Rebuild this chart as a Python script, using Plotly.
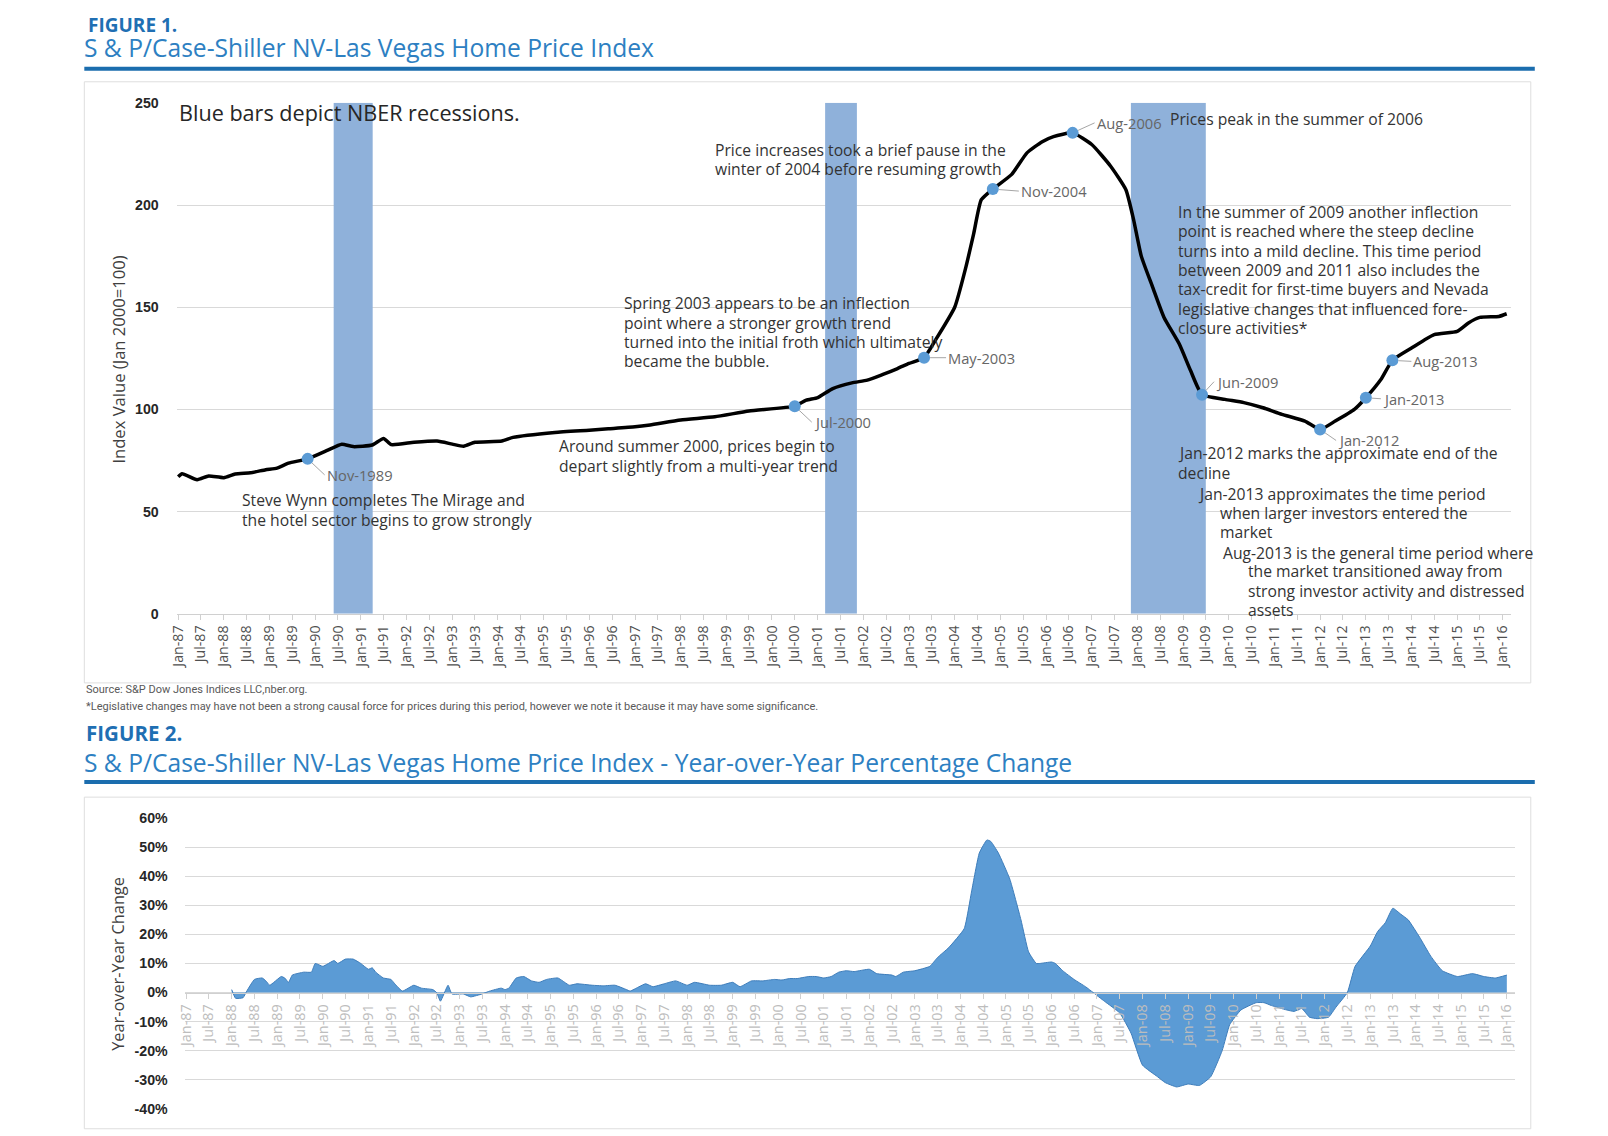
import plotly.graph_objects as go

W, H = 1608, 1136

# ---- data ----
price_dates = ["1987-01", "1987-02", "1987-06", "1987-09", "1988-01", "1988-04", "1988-08",
               "1988-12", "1989-03", "1989-06", "1989-11", "1990-04", "1990-08", "1990-11",
               "1991-04", "1991-07", "1991-09", "1992-03", "1992-09", "1993-01", "1993-04",
               "1993-07", "1994-02", "1994-05", "1995-04", "1996-01", "1996-06", "1997-01",
               "1997-05", "1998-01", "1998-10", "1999-07", "2000-07", "2000-10", "2001-01",
               "2001-05", "2001-10", "2002-02", "2002-06", "2002-10", "2003-01", "2003-05",
               "2003-08", "2004-01", "2004-04", "2004-06", "2004-08", "2004-11", "2005-04",
               "2005-08", "2005-12", "2006-03", "2006-08", "2007-01", "2007-06", "2007-10",
               "2007-12", "2008-02", "2008-05", "2008-08", "2008-12", "2009-03", "2009-06",
               "2009-12", "2010-05", "2010-10", "2011-03", "2011-09", "2012-01", "2012-05",
               "2012-10", "2013-01", "2013-05", "2013-08", "2014-01", "2014-07", "2015-01",
               "2015-04", "2015-07", "2015-12", "2016-02"]
price_index = [67.0, 68.5, 65.6, 67.4, 66.6, 68.4, 69.0,
               70.5, 71.3, 73.7, 75.8, 79.8, 83.0, 81.8,
               82.6, 85.8, 82.8, 83.9, 84.5, 83.0, 82.0,
               83.9, 84.5, 86.3, 88.7, 89.8, 90.5, 91.5,
               92.4, 94.8, 96.4, 99.2, 101.6, 104.5, 105.8,
               110.2, 113.0, 114.3, 117.0, 120.0, 122.5, 125.3,
               134.0, 150.0, 170.0, 186.0, 202.6, 207.8, 215.0,
               225.5, 231.0, 233.5, 235.3, 229.6, 219.0, 207.5,
               193.0, 175.0, 160.0, 145.0, 132.0, 119.0, 107.2,
               104.9, 103.3, 100.8, 97.6, 94.3, 90.2, 94.3,
               100.0, 105.7, 114.6, 124.0, 130.0, 136.6, 138.2,
               142.3, 145.0, 145.5, 146.8]

key_dates = ["1989-11", "2000-07", "2003-05", "2004-11", "2006-08",
             "2009-06", "2012-01", "2013-01", "2013-08"]
key_labels = ["Nov-1989", "Jul-2000", "May-2003", "Nov-2004", "Aug-2006",
              "Jun-2009", "Jan-2012", "Jan-2013", "Aug-2013"]
# label offsets from the marker, pixels
key_dx = [17, 17, 22, 26, 22, 12, 16, 15, 19]
key_dy = [16, 16, 0, 2, -10, -13, 11, 1, 1]

recession_start = ["1990-05-28", "2001-03-01", "2007-11-10"]
recession_end = ["1991-04-05", "2001-11-10", "2009-07-01"]

yoy_dates = ["1988-01", "1988-02", "1988-04", "1988-05", "1988-07", "1988-09", "1988-10",
             "1988-11", "1989-02", "1989-03", "1989-04", "1989-05", "1989-08", "1989-10",
             "1989-11", "1990-01", "1990-04", "1990-05", "1990-07", "1990-09", "1990-11",
             "1991-01", "1991-02", "1991-03", "1991-05", "1991-07", "1991-08", "1991-10",
             "1992-01", "1992-03", "1992-06", "1992-07", "1992-08", "1992-10", "1992-11",
             "1993-02", "1993-04", "1993-07", "1993-09", "1993-12", "1994-01", "1994-02",
             "1994-04", "1994-06", "1994-08", "1994-10", "1994-12", "1995-03", "1995-06",
             "1995-08", "1995-12", "1996-03", "1996-06", "1996-09", "1996-10", "1997-02",
             "1997-04", "1997-07", "1997-10", "1998-01", "1998-03", "1998-07", "1998-10",
             "1999-01", "1999-03", "1999-06", "1999-09", "1999-12", "2000-02", "2000-04",
             "2000-06", "2000-09", "2000-11", "2001-01", "2001-03", "2001-05", "2001-07",
             "2001-09", "2002-01", "2002-03", "2002-07", "2002-08", "2002-10", "2003-01",
             "2003-05", "2003-07", "2003-10", "2004-02", "2004-04", "2004-06", "2004-08",
             "2004-09", "2004-11", "2005-02", "2005-05", "2005-07", "2005-09", "2005-10",
             "2006-01", "2006-02", "2006-04", "2006-07", "2006-10", "2006-12", "2007-03",
             "2007-07", "2007-10", "2008-01", "2008-05", "2008-07", "2008-10", "2009-01",
             "2009-04", "2009-07", "2009-10", "2009-12", "2010-03", "2010-07", "2010-09",
             "2010-11", "2011-03", "2011-05", "2011-07", "2011-09", "2011-11", "2012-02",
             "2012-04", "2012-07", "2012-09", "2013-01", "2013-03", "2013-05", "2013-07",
             "2013-09", "2013-11", "2014-02", "2014-05", "2014-08", "2014-12", "2015-04",
             "2015-07", "2015-10", "2016-01"]
yoy_pct = [1.0, -2.0, -1.8, 0.5, 4.5, 5.0, 4.0,
           2.5, 5.5, 5.0, 3.5, 6.0, 7.0, 7.0,
           10.0, 9.0, 11.0, 10.0, 11.5, 11.5, 10.0,
           8.0, 8.5, 7.0, 5.0, 4.5, 3.0, 0.5,
           2.5, 1.5, 1.0, 0.0, -3.0, 2.5, -0.5,
           -0.5, -1.5, -0.5, 0.5, 1.5, 1.0, 1.5,
           5.0, 5.5, 4.0, 3.5, 4.5, 5.0, 2.5,
           3.0, 2.5, 2.3, 2.5, 1.0, 0.5, 3.0,
           2.0, 3.0, 4.0, 2.5, 3.5, 2.5, 2.5,
           3.5, 2.0, 4.0, 4.0, 4.5, 4.3, 4.8,
           4.8, 5.5, 5.5, 5.0, 5.5, 7.0, 7.5,
           7.2, 8.0, 6.5, 6.0, 5.5, 7.0, 7.5,
           9.0, 12.0, 15.5, 22.0, 35.0, 48.0, 52.5,
           52.0, 48.0, 39.0, 25.0, 14.0, 10.0, 10.0,
           10.5, 10.0, 7.5, 4.5, 2.0, 0.0, -3.0,
           -7.0, -14.0, -25.0, -29.0, -31.0, -32.5, -31.5,
           -32.0, -29.0, -20.0, -11.0, -6.0, -3.5, -3.5,
           -4.5, -6.0, -6.5, -5.5, -8.5, -9.0, -8.5,
           -5.0, 0.0, 9.0, 16.0, 21.0, 24.0, 29.0,
           27.0, 25.0, 19.0, 12.5, 7.5, 5.5, 6.5,
           5.5, 5.0, 6.0]

yoy_ticks = [-40, -30, -20, -10, 0, 10, 20, 30, 40, 50, 60]

BLUE_TXT = "#1F6FB3"
TITLE_BLUE = "#2D80C2"
RULE = "#1B6DAE"
TXT = "#333333"
TXTFONT = "Open Sans"


# layout positions below are in reference-picture pixels; mapped to figure pixels here
def fx(x):
    return 1.0052 * x - 16.7


def fy(y):
    return 1.0162 * y - 16.6


def px(x):
    return fx(x) / W


def py(y):
    return 1 - fy(y) / H


fig = go.Figure()

# figure 1 : index
fig.add_trace(go.Scatter(x=price_dates, y=price_index, mode="lines",
                         line=dict(color="black", width=3.5, shape="spline", smoothing=0.5),
                         hoverinfo="skip", xaxis="x", yaxis="y"))
lookup = dict(zip(price_dates, price_index))
key_vals = [lookup[d] for d in key_dates]
fig.add_trace(go.Scatter(x=key_dates, y=key_vals, mode="markers",
                         marker=dict(color="#5B9BD5", size=12), hoverinfo="skip",
                         xaxis="x", yaxis="y"))

# figure 2 : yoy change
fig.add_trace(go.Scatter(x=yoy_dates, y=yoy_pct, mode="lines", fill="tozeroy",
                         fillcolor="#5B9BD5",
                         line=dict(color="#3E7DBA", width=1, shape="spline", smoothing=0.4),
                         hoverinfo="skip", xaxis="x2", yaxis="y2"))

shapes = []
for s, e in zip(recession_start, recession_end):
    shapes.append(dict(type="rect", xref="x", yref="y", x0=s, x1=e, y0=0, y1=250,
                       fillcolor="#8FB1DA", line=dict(width=0), layer="between"))
# header rules and chart frames
for y in (69, 781):
    shapes.append(dict(type="line", xref="paper", yref="paper", x0=px(84), x1=px(1536),
                       y0=py(y), y1=py(y), line=dict(color=RULE, width=4)))
for y0, y1 in ((82, 682), (796, 1127)):
    shapes.append(dict(type="rect", xref="paper", yref="paper", x0=px(84), x1=px(1532),
                       y0=py(y1), y1=py(y0), line=dict(color="#dedede", width=1)))

ann = []


def note(x, y, text, size=15.7, color=TXT, family=TXTFONT, **kw):
    ann.append(dict(xref="paper", yref="paper", x=px(x), y=py(y), text=text,
                    showarrow=False, xanchor=kw.pop("xanchor", "left"),
                    yanchor=kw.pop("yanchor", "middle"), align="left",
                    font=dict(family=family, size=size, color=color, **kw)))


def block(x, y, lines, step=19.3, **kw):
    for i, line in enumerate(lines):
        note(x, y + i * step, line, **kw)


# the top label sits against the top edge of the figure
ann.append(dict(xref="paper", yref="paper", x=px(86), y=1 - 9.5 / H, text="FIGURE 1.",
                showarrow=False, xanchor="left", yanchor="middle",
                font=dict(family="Open Sans", size=19, color=BLUE_TXT, weight="bold")))
note(82, 47.5, "S & P/Case-Shiller NV-Las Vegas Home Price Index", size=24.6, color=TITLE_BLUE)
note(84, 732, "FIGURE 2.", size=20.5, color=BLUE_TXT, weight="bold")
note(82, 761, "S & P/Case-Shiller NV-Las Vegas Home Price Index - Year-over-Year Percentage Change",
     size=24.6, color=TITLE_BLUE)
note(84, 1130, "FIGURE 3.", size=20.5, color=BLUE_TXT, weight="bold", yanchor="top")

note(84, 689, "Source: S&P Dow Jones Indices LLC,nber.org.", size=11, color="#595959", family="Roboto")
note(84, 706, "*Legislative changes may have not been a strong causal force for prices during this "
     "period, however we note it because it may have some significance.",
     size=11, color="#595959", family="Roboto")

note(118, 359, "Index Value (Jan 2000=100)", size=16.6, color="#404040", family="Open Sans",
     xanchor="center")
ann[-1]["textangle"] = -90
note(118, 962, "Year-over-Year Change", size=16.3, color="#404040", family="Open Sans",
     xanchor="center")
ann[-1]["textangle"] = -90

note(177, 113, "Blue bars depict NBER recessions.", size=21.6, color="#262626")
block(713, 150, ["Price increases took a brief pause in the",
                 "winter of 2004 before resuming growth"])
note(1169, 119, "Prices peak in the summer of 2006")
block(1177, 212, ["In the summer of 2009 another inflection",
                  "point is reached where the steep decline",
                  "turns into a mild decline. This time period",
                  "between 2009 and 2011 also includes the",
                  "tax-credit for first-time buyers and Nevada",
                  "legislative changes that influenced fore-",
                  "closure activities*"])
block(622, 303, ["Spring 2003 appears to be an inflection",
                 "point where a stronger growth trend",
                 "turned into the initial froth which ultimately",
                 "became the bubble."])
block(557, 446, ["Around summer 2000, prices begin to",
                 "depart slightly from a multi-year trend"])
block(240, 499.5, ["Steve Wynn completes The Mirage and",
                   "the hotel sector begins to grow strongly"], step=20)
block(1177, 453, ["Jan-2012 marks the approximate end of the", "decline"])
note(1197, 493, "Jan-2013 approximates the time period")
block(1219, 512, ["when larger investors entered the", "market"])
note(1222, 552, "Aug-2013 is the general time period where")
block(1247, 570.5, ["the market transitioned away from",
                    "strong investor activity and distressed",
                    "assets"])

for d, v, lab, dx, dy in zip(key_dates, key_vals, key_labels, key_dx, key_dy):
    ann.append(dict(xref="x", yref="y", x=d, y=v, text=lab, showarrow=True,
                    ax=dx, ay=dy, xanchor="left", yanchor="middle", arrowhead=0,
                    arrowwidth=1, arrowcolor="#a6a6a6", standoff=6,
                    font=dict(family="Open Sans", size=14.7, color="#666666")))

axis_common = dict(type="date", tickformat="%b-%y", dtick="M6", tick0="1987-01-01",
                   tickangle=-90, showgrid=False, showline=True, linecolor="#d0d0d0",
                   ticks="outside", ticklen=5, tickcolor="#d0d0d0",
                   range=["1986-12-20", "2016-03-05"])

fig.update_layout(
    width=W, height=H, margin=dict(l=0, r=0, t=0, b=0),
    paper_bgcolor="white", plot_bgcolor="white", showlegend=False,
    shapes=shapes, annotations=ann,
    xaxis=dict(axis_common, domain=[px(176.5), px(1512)], anchor="y",
               tickfont=dict(family="Open Sans", size=14.2, color="#505050")),
    yaxis=dict(range=[0, 250], dtick=50, domain=[py(613), py(103)], anchor="x",
               gridcolor="#d9d9d9", zeroline=False, ticklabelstandoff=17,
               tickfont=dict(family="Liberation Sans", size=14.2, color="#262626", weight="bold")),
    xaxis2=dict(axis_common, domain=[px(184.5), px(1516)], anchor="free", position=py(991),
                tickfont=dict(family="Open Sans", size=14.4, color="#bdbdbd")),
    yaxis2=dict(range=[-40, 60], tickvals=yoy_ticks, ticktext=[f"{v}%" for v in yoy_ticks],
                domain=[py(1107), py(817)], anchor="x2", gridcolor="#d9d9d9", zeroline=False,
                ticklabelstandoff=16,
                tickfont=dict(family="Liberation Sans", size=14.2, color="#262626", weight="bold")),
)

fig.write_html("out.html")
